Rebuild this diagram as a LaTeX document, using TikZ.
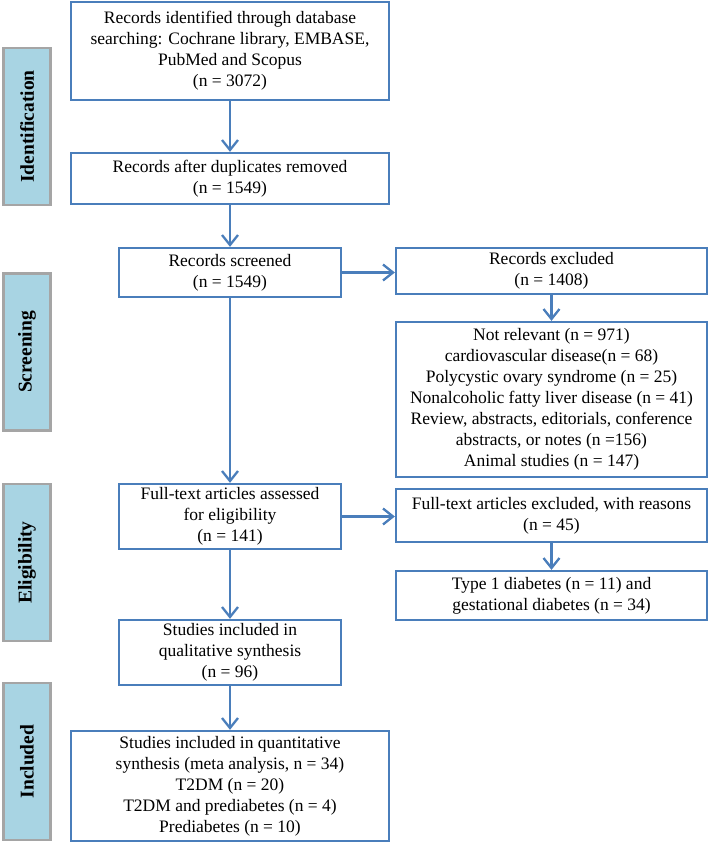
\documentclass[tikz,border=0pt]{standalone}
\usepackage{fontspec}
\setmainfont{Liberation Serif}
\usetikzlibrary{arrows.meta}
\definecolor{lineblue}{HTML}{4A7EBB}
\definecolor{stagefill}{HTML}{A8D4E3}
\definecolor{stagegray}{HTML}{A5A5A5}

\begin{document}
\begin{tikzpicture}[x=1pt,y=-1pt,
        box/.style={draw=lineblue, line width=2.3pt, fill=white, align=center, inner sep=0pt,
            font=\fontsize{17.5}{21}\selectfont},
        stage/.style={draw=stagegray, fill=stagefill, line width=2.5pt, inner sep=0pt,
            minimum width=157pt, minimum height=47pt, rotate=90,
            font=\fontsize{19.5}{22}\selectfont\bfseries},
        >={Straight Barb[length=10pt,width=16pt]}]
        \useasboundingbox (0,0) rectangle (709,843);
        % stages
        \node[stage] (ident) at (27,126.5) {Identification};
        \node[stage] (screen) at (27,352) {Screening};
        \node[stage] (elig) at (27,562.5) {Eligibility};
        \node[stage] (incl) at (27,761.5) {Included};
        % main column
        \node[box, minimum width=318pt, minimum height=98pt] (rec) at (230,51)
            {Records identified through database\\searching: Cochrane library, EMBASE,\\PubMed and Scopus\\(n = 3072)};
        \node[box, minimum width=318pt, minimum height=51pt] (dup) at (230,178.5)
            {Records after duplicates removed\\(n = 1549)};
        \node[box, minimum width=222pt, minimum height=49pt] (scr) at (230,272.5)
            {Records screened\\(n = 1549)};
        \node[box, minimum width=222pt, minimum height=65pt] (full) at (230,516.5)
            {Full-text articles assessed\\for eligibility\\(n = 141)};
        \node[box, minimum width=222pt, minimum height=65pt] (qual) at (230,652.5)
            {Studies included in\\qualitative synthesis\\(n = 96)};
        \node[box, minimum width=318pt, minimum height=110pt] (quant) at (230,786)
            {Studies included in quantitative\\synthesis (meta analysis, n = 34)\\T2DM (n = 20)\\T2DM and prediabetes (n = 4)\\Prediabetes (n = 10)};
        % exclusions
        \node[box, minimum width=311pt, minimum height=46pt] (exc) at (551.5,271)
            {Records excluded\\(n = 1408)};
        \node[box, minimum width=311pt, minimum height=155pt] (rsn) at (551.5,399.5)
            {Not relevant (n = 971)\\cardiovascular disease(n = 68)\\Polycystic ovary syndrome (n = 25)\\Nonalcoholic fatty liver disease (n = 41)\\Review, abstracts, editorials, conference\\abstracts, or notes (n =156)\\Animal studies (n = 147)};
        \node[box, minimum width=311pt, minimum height=53pt] (fexc) at (551.5,515.5)
            {Full-text articles excluded, with reasons\\(n = 45)};
        \node[box, minimum width=311pt, minimum height=49pt] (t1) at (551.5,595.5)
            {Type 1 diabetes (n = 11) and\\gestational diabetes (n = 34)};
        % arrows
        \begin{scope}[draw=lineblue, line width=2.3pt]
        \draw[->] (rec) -- (dup);
        \draw[->] (dup) -- (scr);
        \draw[->] (scr) -- (full);
        \draw[->] (full) -- (qual);
        \draw[->] (qual) -- (quant);
        \draw[->] (scr.east) -- (scr.east -| exc.west);
        \draw[->] (exc) -- (rsn);
        \draw[->] (full.east) -- (full.east -| fexc.west);
        \draw[->] (fexc) -- (t1);
        \end{scope}
    \end{tikzpicture}
\end{document}
